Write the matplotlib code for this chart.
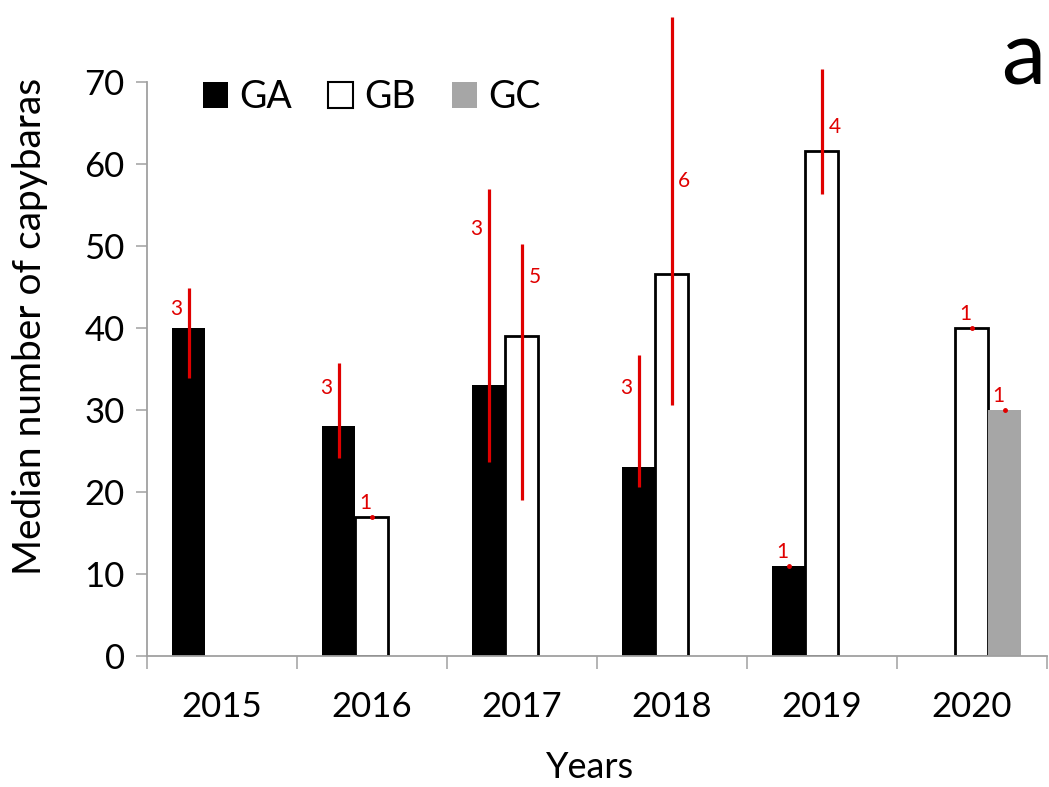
import numpy as np
import matplotlib
matplotlib.use("Agg")
import matplotlib.pyplot as plt
from matplotlib.patches import Patch

plt.rcParams['font.family'] = ['Lato', 'DejaVu Sans']

nan = np.nan
years = ["2015", "2016", "2017", "2018", "2019", "2020"]
series = ["GA", "GB", "GC"]

ga = [40, 28, 33, 23, 11, nan]
gb = [nan, 17, 39, 46.6, 61.6, 40]
gc = [nan, nan, nan, nan, nan, 30]

ga_lo = [33.9, 24.1, 23.7, 20.6, 11, nan]
ga_hi = [44.9, 35.7, 57.0, 36.7, 11, nan]
gb_lo = [nan, 17, 19.0, 30.6, 56.3, 40]
gb_hi = [nan, 17, 50.3, 77.9, 71.6, 40]
gc_lo = [nan, nan, nan, nan, nan, 30]
gc_hi = [nan, nan, nan, nan, nan, 30]

ga_n = [3, 3, 3, 3, 1, None]
gb_n = [None, 1, 5, 6, 4, 1]
gc_n = [None, None, None, None, None, 1]

# layout: label drop below error-bar top (points), per series
ga_drop = [5, 8, 19, 14, 0, 0]
gb_drop = [0, 0, 14, 108, 32, 0]
gc_drop = [0, 0, 0, 0, 0, 0]

RED = "#e00000"
fig = plt.figure(figsize=(10.49, 7.87), dpi=100)
ax = fig.add_axes([0.140, 0.1665, 0.858, 0.7293])

x = np.arange(len(years))
w = 0.22
offs = [-w, 0, w]
vals = [ga, gb, gc]
los = [ga_lo, gb_lo, gc_lo]
his = [ga_hi, gb_hi, gc_hi]
ns = [ga_n, gb_n, gc_n]
drops = [ga_drop, gb_drop, gc_drop]
faces = ["black", "white", "#a6a6a6"]
edges = ["black", "black", "#a6a6a6"]
lws = [0, 2.0, 0]
label_side = [-1, 1, 1]

for k in range(3):
    v = np.array(vals[k], dtype=float)
    ax.bar(x + offs[k], v, width=w, color=faces[k], edgecolor=edges[k],
           linewidth=lws[k], zorder=2, label=series[k])

for k in range(3):
    v = np.array(vals[k], dtype=float)
    lo = np.array(los[k], dtype=float)
    hi = np.array(his[k], dtype=float)
    for i in range(len(years)):
        if np.isnan(v[i]):
            continue
        xi = x[i] + offs[k]
        n = ns[k][i]
        if lo[i] == hi[i]:
            ax.plot([xi], [hi[i]], marker='o', ms=2.5, color=RED, zorder=4,
                    clip_on=False)
            ax.annotate(str(n), (xi, hi[i]), xytext=(-5, 10),
                        textcoords='offset points', ha='center', va='center',
                        color=RED, fontsize=15, zorder=5,
                        annotation_clip=False)
        else:
            ax.vlines(xi, lo[i], hi[i], colors=RED, linewidth=2.3, zorder=3,
                      clip_on=False)
            ax.annotate(str(n), (xi, hi[i]),
                        xytext=(label_side[k] * 9, -drops[k][i] - 10),
                        textcoords='offset points', ha='center', va='center',
                        color=RED, fontsize=15, zorder=5,
                        annotation_clip=False)

ax.set_xlim(-0.5, len(years) - 0.5)
ax.set_ylim(0, 70)
ax.set_yticks(np.arange(0, 71, 10))
ax.tick_params(axis='y', labelsize=25, length=8, width=1.1, color='#a0a0a0',
               pad=8)
ax.set_xticks(np.arange(-0.5, len(years), 1.0))
ax.set_xticklabels([])
ax.set_xticks(x, minor=True)
ax.set_xticklabels(years, minor=True)
ax.tick_params(axis='x', which='major', length=9, width=1.1, color='#a0a0a0')
ax.tick_params(axis='x', which='minor', length=0, labelsize=25, pad=25)
for s in ['top', 'right']:
    ax.spines[s].set_visible(False)
for s in ['left', 'bottom']:
    ax.spines[s].set_color('#a0a0a0')
    ax.spines[s].set_linewidth(1.3)

ax.set_ylabel("Median number of capybaras", fontsize=28)
ax.yaxis.set_label_coords(-0.110, 0.575)
fig.text(0.5624, 1 - 768 / 787, "Years", fontsize=26, ha='center', va='center')

handles = [Patch(facecolor=faces[k], edgecolor=edges[k], linewidth=[0, 1.5, 0][k])
           for k in range(3)]
ax.legend(handles, series, loc='upper left', bbox_to_anchor=(0.062, 1.005),
          ncol=3, frameon=False, fontsize=27, handlelength=0.68,
          handleheight=0.68, handletextpad=0.3, columnspacing=0.95,
          borderpad=0, borderaxespad=0)

fig.text(0.9965, 0.893, "a", fontsize=64, ha='right', va='baseline')

fig.savefig("out.png", dpi=100)
